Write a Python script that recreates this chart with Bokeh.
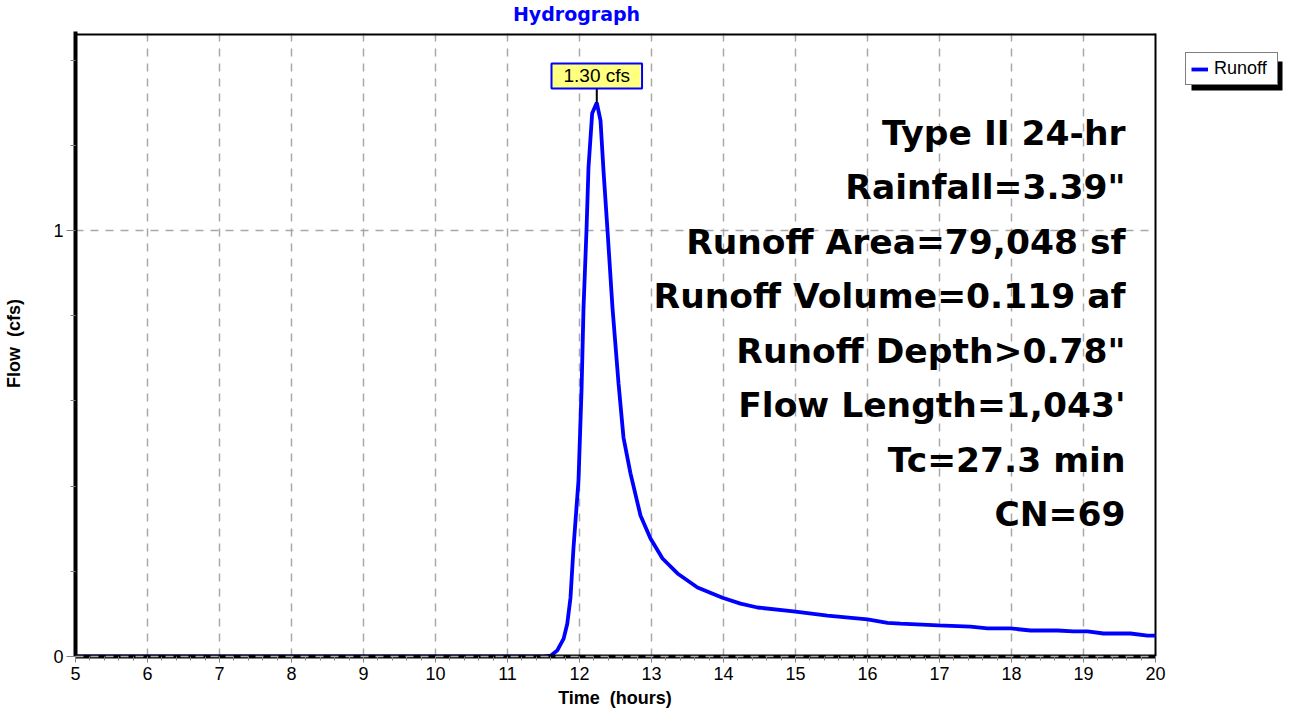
from bokeh.plotting import figure
from bokeh.models import FixedTicker, Label, Legend, LegendItem, Range1d, BoxAnnotation
from bokeh.embed import file_html
from bokeh.resources import INLINE

# ---- data ----
time_hr = [5.0, 11.5, 11.6, 11.69, 11.78, 11.83, 11.875, 11.917, 11.986, 12.028,
           12.056, 12.097, 12.125, 12.176, 12.24, 12.292, 12.333, 12.389, 12.458,
           12.542, 12.611, 12.708, 12.847, 12.986, 13.153, 13.361, 13.639, 13.986,
           14.236, 14.472, 14.972, 15.444, 16.0, 16.278, 16.458, 16.986, 17.43,
           17.667, 17.986, 18.264, 18.639, 18.861, 19.056, 19.278, 19.653, 19.889,
           20.0]
runoff_cfs = [0.0, 0.0, 0.002, 0.014, 0.042, 0.077, 0.138, 0.256, 0.413, 0.624,
              0.819, 1.0, 1.148, 1.275, 1.30, 1.258, 1.141, 1.0, 0.819,
              0.641, 0.514, 0.430, 0.331, 0.277, 0.230, 0.195, 0.162, 0.138,
              0.124, 0.115, 0.106, 0.096, 0.087, 0.079, 0.077, 0.073, 0.070,
              0.066, 0.066, 0.061, 0.061, 0.059, 0.059, 0.054, 0.054, 0.049,
              0.049]
peak_time = 12.24
peak_flow = 1.30
peak_label = "1.30 cfs"
x_ticks = list(range(5, 21))
y_ticks = [0, 1]
y_minor = [0.2, 0.4, 0.6, 0.8, 1.2, 1.4]
summary_lines = ["Type II 24-hr", 'Rainfall=3.39"', "Runoff Area=79,048 sf",
                 "Runoff Volume=0.119 af", 'Runoff Depth>0.78"',
                 "Flow Length=1,043'", "Tc=27.3 min", "CN=69"]
title_text = "Hydrograph"
legend_label = "Runoff"
x_title = "Time\u00a0\u00a0(hours)"
y_title = "Flow\u00a0\u00a0(cfs)"

FONT = "Liberation Sans"
WIDE = "DejaVu Sans"
BLUE = "#0000ff"
NBSP = "\u00a0"

# ---- layout (pixels) ----
W, H = 1289, 713
LEFT, BOTTOM = 75, 57
PX_PER_HR = 72.0
PX_PER_CFS = 426.0
X_MIN, X_MAX = 5, 20
Y_MAX = 1.4624           # top of plot box
frame_w = W - LEFT
frame_h = H - BOTTOM


def px2x(px):
    return X_MIN + (px - LEFT) / PX_PER_HR


def px2y(py):
    return (frame_h - py) / PX_PER_CFS


p = figure(width=W, height=H, output_backend="svg", toolbar_location=None,
           x_range=Range1d(X_MIN, X_MIN + frame_w / PX_PER_HR),
           y_range=Range1d(0, frame_h / PX_PER_CFS),
           min_border_left=LEFT, min_border_right=0, min_border_top=0,
           min_border_bottom=BOTTOM)
p.outline_line_color = None
p.background_fill_color = "white"
p.border_fill_color = "white"
p.xgrid.visible = False
p.ygrid.visible = False

# axes (axis titles padded so they centre on the plot box, not the wider frame)
xa = p.xaxis[0]
xa.bounds = (X_MIN, X_MAX)
xa.ticker = FixedTicker(ticks=x_ticks,
                        minor_ticks=[X_MIN + i * 0.2 for i in range(76)])
xa.axis_label = x_title + NBSP * 27
ya = p.yaxis[0]
ya.bounds = (0, Y_MAX + 0.005)
ya.ticker = FixedTicker(ticks=y_ticks, minor_ticks=y_minor)
ya.axis_label = y_title + NBSP * 6
for ax in (xa, ya):
    ax.axis_line_color = "black"
    ax.axis_line_width = 4
    ax.major_tick_line_color = "#808080"
    ax.minor_tick_line_color = "#808080"
    ax.major_tick_in = 0
    ax.minor_tick_in = 0
    ax.major_label_text_font = FONT
    ax.major_label_text_font_size = "18px"
    ax.major_label_text_color = "black"
    ax.axis_label_text_font = FONT
    ax.axis_label_text_font_size = "18px"
    ax.axis_label_text_font_style = "bold"
    ax.axis_label_text_color = "black"
xa.major_tick_out = 6
xa.minor_tick_out = 4
xa.major_label_standoff = 4
xa.axis_label_standoff = 5
ya.major_tick_out = 9
ya.minor_tick_out = 5
ya.major_label_standoff = 3
ya.axis_label_standoff = 26

# grid lines (dashed), limited to the plot box
grid_x = x_ticks[1:-1]
p.segment(x0=grid_x, y0=[0] * len(grid_x), x1=grid_x, y1=[Y_MAX] * len(grid_x),
          line_color="#a8a8a8", line_width=1.5, line_dash="8 7")
p.segment(x0=[X_MIN], y0=[1], x1=[X_MAX], y1=[1],
          line_color="#a8a8a8", line_width=1.5, line_dash="8 7")
p.segment(x0=[X_MIN], y0=[0], x1=[X_MAX], y1=[0],
          line_color="#a8a8a8", line_width=1.5, line_dash="8 7", level="overlay")

# plot box: top and right borders
p.segment(x0=[X_MIN], y0=[Y_MAX - 1 / PX_PER_CFS], x1=[X_MAX],
          y1=[Y_MAX - 1 / PX_PER_CFS], line_color="black", line_width=2)
p.segment(x0=[X_MAX], y0=[0], x1=[X_MAX], y1=[Y_MAX],
          line_color="black", line_width=2)

# curve
r = p.line(time_hr, runoff_cfs, line_color=BLUE, line_width=3.8)

# title
p.add_layout(Label(x=px2x(576), y=px2y(13), text=title_text, text_align="center",
                   text_baseline="alphabetic", text_font=WIDE,
                   text_font_size="19px", text_font_style="bold",
                   text_color=BLUE))

# peak label
p.segment(x0=[peak_time], y0=[peak_flow], x1=[peak_time], y1=[peak_flow + 0.035],
          line_color="black", line_width=2)
p.add_layout(Label(x=peak_time, y=peak_flow + 0.0627, text=peak_label,
                   text_align="center", text_baseline="middle",
                   text_font=FONT, text_font_size="19px", text_color="black",
                   background_fill_color="#ffff80", border_line_color=BLUE,
                   border_line_width=2, padding=(12, 2)))

# summary text
base0 = px2y(132)
dy = 54.5 / PX_PER_CFS
for i, s in enumerate(summary_lines):
    p.add_layout(Label(x=px2x(1125), y=base0 - i * dy, text=s, text_align="right",
                       text_baseline="alphabetic", text_font=WIDE,
                       text_font_size="34.5px", text_font_style="bold",
                       text_color="black"))

# legend with drop shadow
p.add_layout(BoxAnnotation(left=px2x(1191), right=px2x(1282), top=px2y(61),
                           bottom=px2y(90), fill_color="black", fill_alpha=1,
                           line_color=None))
leg = Legend(items=[LegendItem(label=legend_label, renderers=[r])],
             location=(1185 - LEFT, frame_h - 85), label_text_font=FONT,
             label_text_font_size="18px", label_text_color="black",
             glyph_width=17, glyph_height=16,
             label_width=58, padding=5, margin=0, spacing=0, label_standoff=6,
             border_line_color="black", border_line_width=1.5,
             background_fill_color="white", background_fill_alpha=1)
p.add_layout(leg)

open("out.html", "w").write(file_html(p, INLINE))
